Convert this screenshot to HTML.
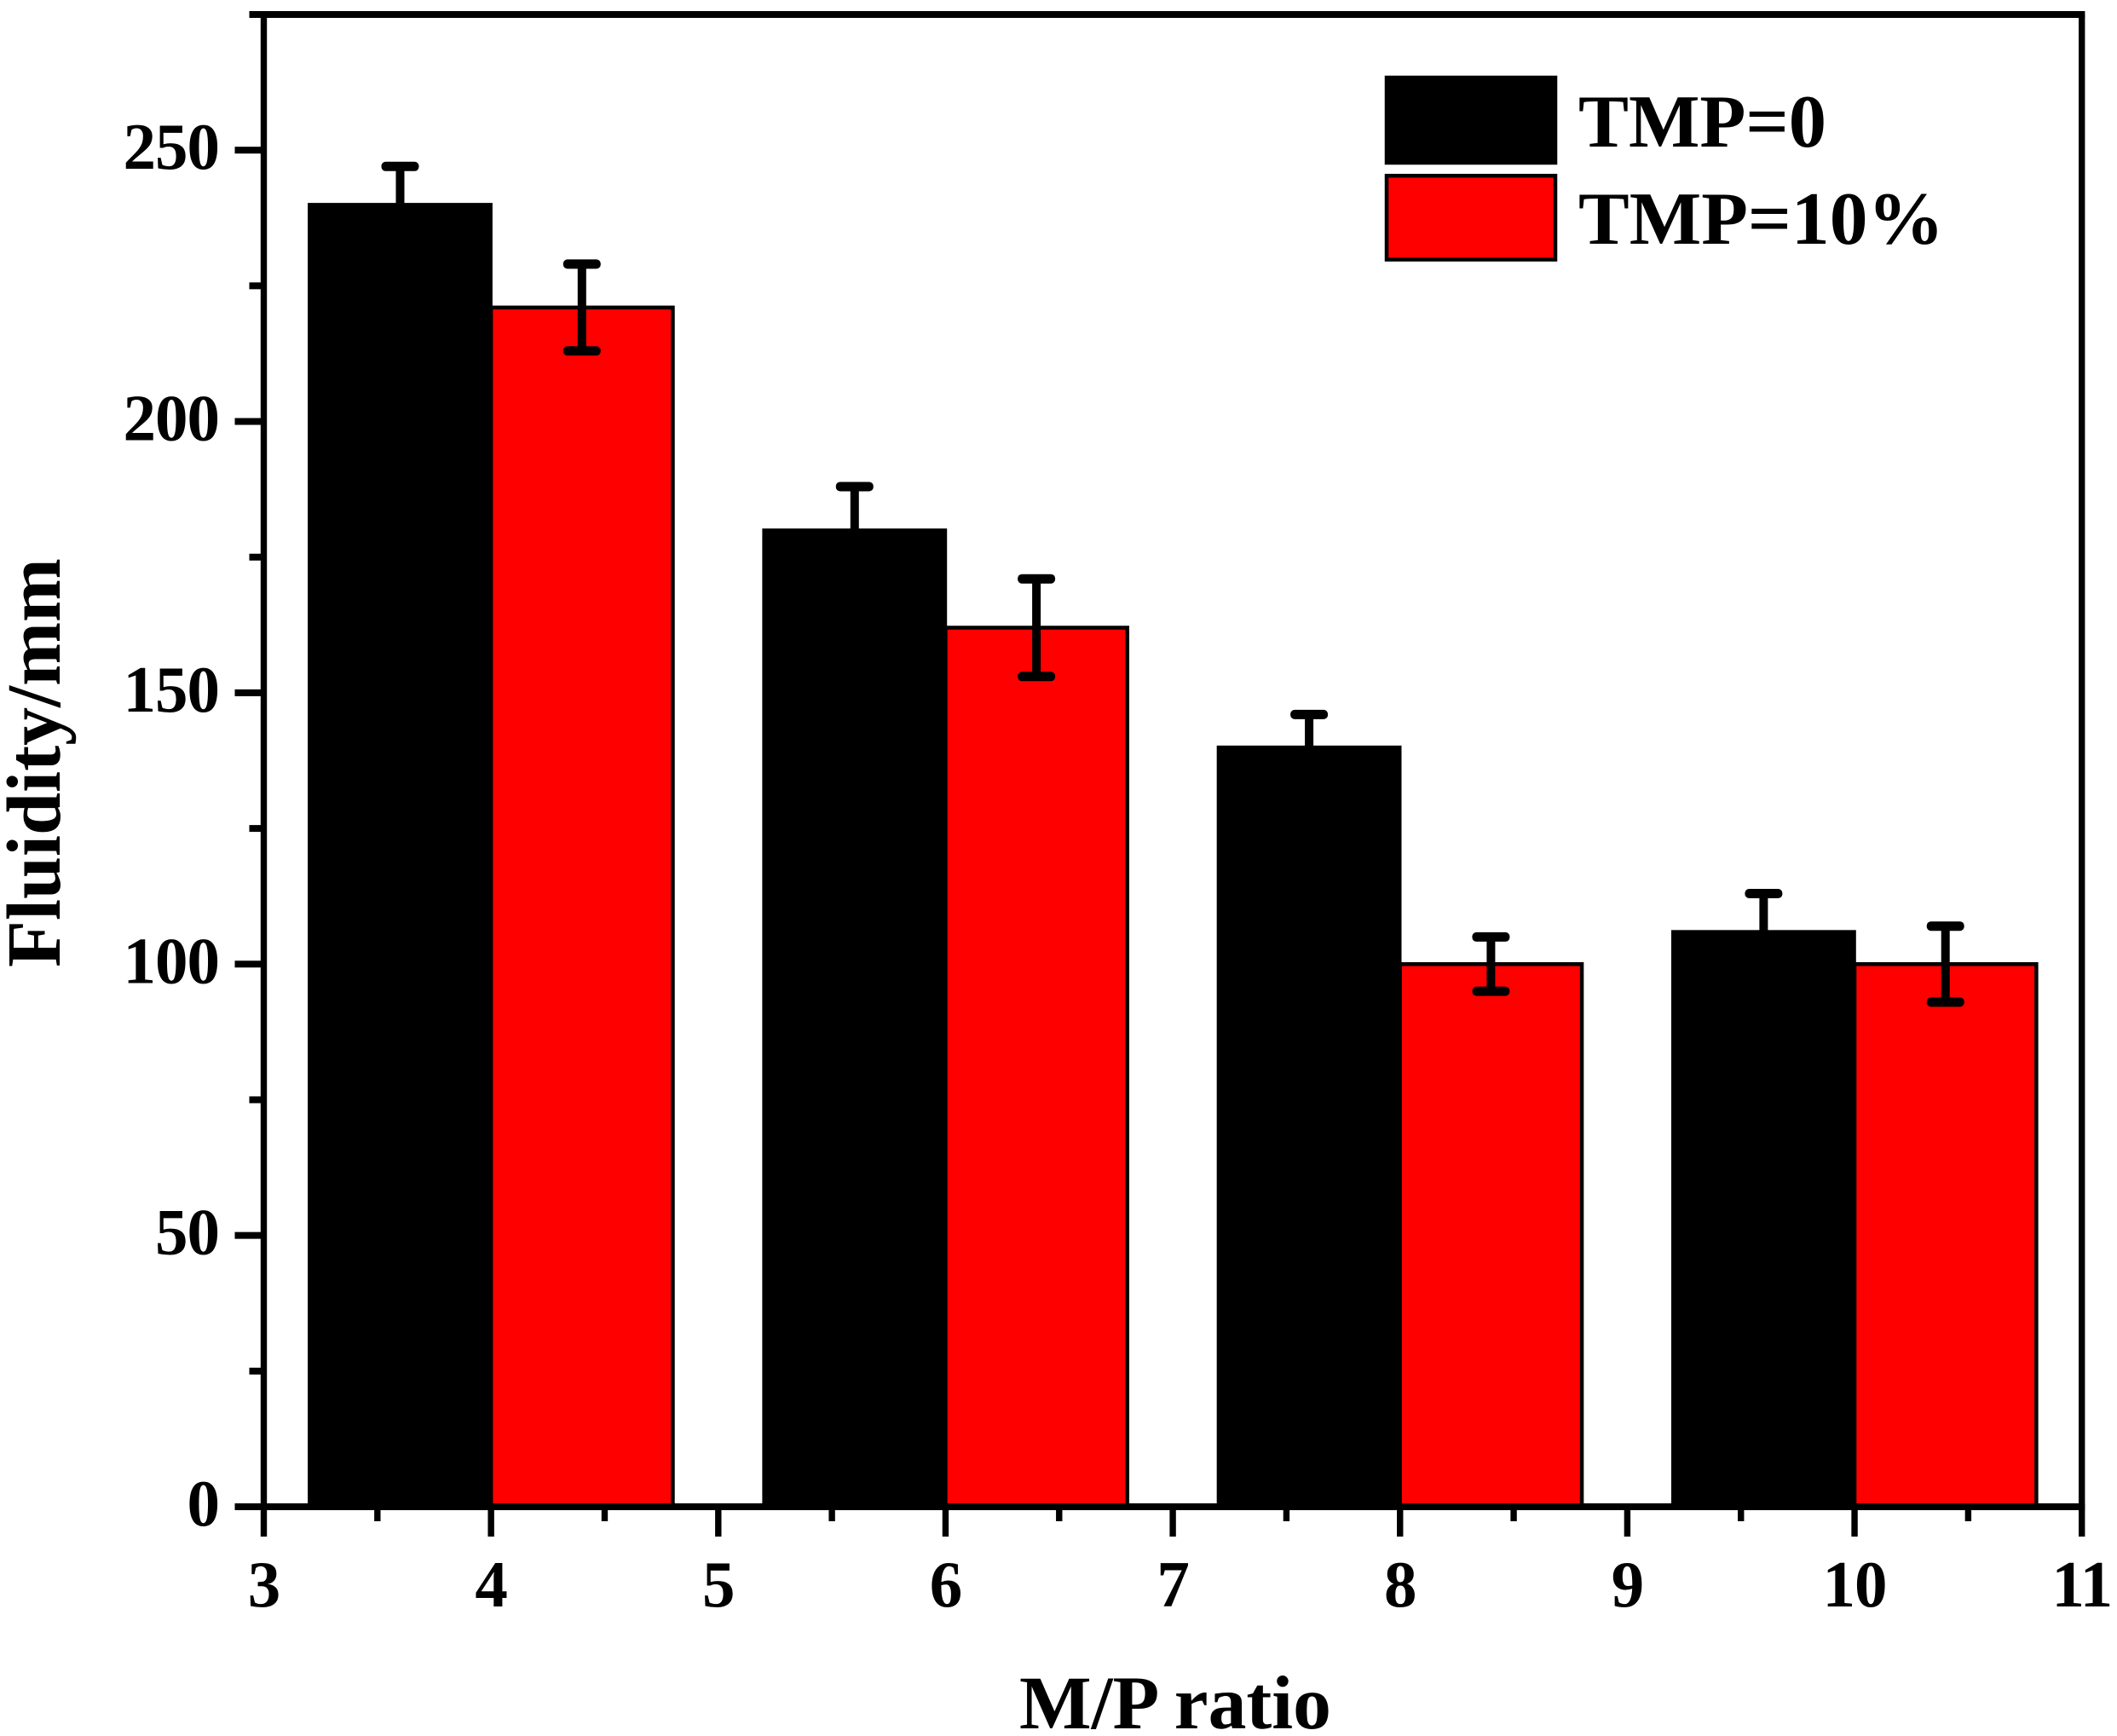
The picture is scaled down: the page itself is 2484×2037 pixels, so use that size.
<!DOCTYPE html>
<html lang="en">
<head>
<meta charset="utf-8">
<title>Fluidity vs M/P ratio</title>
<style>
html,body{margin:0;padding:0;background:#fff;}
svg{display:block;}
text{font-family:"Liberation Serif",serif;font-weight:bold;fill:#000;}
</style>
</head>
<body>
<svg id="chart" xmlns="http://www.w3.org/2000/svg" width="2484" height="2037" viewBox="0 0 2484 2037">
  <rect x="0" y="0" width="2484" height="2037" fill="#fff"/>
  <g id="bars"></g>
  <g id="errors"></g>
  <g id="axes"></g>
  <g id="xlabels"></g>
  <g id="ylabels"></g>
  <text x="1379" y="2028" font-size="89.5" text-anchor="middle" textLength="366" lengthAdjust="spacingAndGlyphs">M/P ratio</text>
  <text x="0" y="0" font-size="90" text-anchor="middle" transform="translate(70 895) rotate(-90)">Fluidity/mm</text>
  <g>
    <rect x="1627" y="91" width="198" height="100" fill="#000" stroke="#000" stroke-width="4.5"/>
    <text x="1852" y="172" font-size="88" textLength="291" lengthAdjust="spacingAndGlyphs">TMP=0</text>
    <rect x="1627" y="206.2" width="198" height="98.4" fill="#f00" stroke="#000" stroke-width="4.5"/>
    <text x="1852" y="286" font-size="88" textLength="429" lengthAdjust="spacingAndGlyphs">TMP=10%</text>
  </g>
</svg>
<script>
const categories = [4, 6, 8, 10];
const tmp0Values = [240, 180, 140, 106];
const tmp10Values = [221, 162, 100, 100];
const tmp0Errors = [7, 8, 6, 7];
const tmp10Errors = [8, 9, 5, 7];
const xTickLabels = [3, 4, 5, 6, 7, 8, 9, 10, 11];
const yTickLabels = [0, 50, 100, 150, 200, 250];
const xDomain = [3, 11];
const yDomain = [0, 275];

const NS = 'http://www.w3.org/2000/svg';
const plotLeft = 309.5, plotRight = 2442.7, plotBottom = 1768, plotTop = 17;
function xS(v) { return plotLeft + (v - xDomain[0]) * (plotRight - plotLeft) / (xDomain[1] - xDomain[0]); }
function yS(v) { return plotBottom - (v - yDomain[0]) * (plotBottom - plotTop) / (yDomain[1] - yDomain[0]); }
function make(tag, attrs, parent) {
  const el = document.createElementNS(NS, tag);
  for (const k in attrs) el.setAttribute(k, attrs[k]);
  parent.appendChild(el);
  return el;
}
const barsG = document.getElementById('bars');
const errorsG = document.getElementById('errors');
const axesG = document.getElementById('axes');
const xLabelsG = document.getElementById('xlabels');
const yLabelsG = document.getElementById('ylabels');
const barSpan = 0.8;

function drawBar(x0, x1, value, fill, strokeW, label) {
  const el = make('rect', { x: xS(x0), y: yS(value), width: xS(x1) - xS(x0), height: yS(0) - yS(value), fill: fill, stroke: '#000', 'stroke-width': strokeW }, barsG);
  
  
}
function drawError(xVal, value, err, label) {
  const cx = xS(xVal), hi = yS(value + err), lo = yS(value - err);
  const g = make('g', {}, errorsG);
  
  
  make('line', { x1: cx, x2: cx, y1: hi, y2: lo, stroke: '#000', 'stroke-width': 10 }, g);
  make('rect', { x: cx - 22, y: hi - 5.5, width: 44, height: 11, rx: 5, ry: 5, fill: '#000' }, g);
  make('rect', { x: cx - 22, y: lo - 5.5, width: 44, height: 11, rx: 5, ry: 5, fill: '#000' }, g);
}
categories.forEach(function (cat, i) {
  drawBar(cat - barSpan, cat, tmp0Values[i], '#000', 3.5, 'bar-tmp0-' + cat);
  drawBar(cat, cat + barSpan, tmp10Values[i], '#f00', 4.5, 'bar-tmp10-' + cat);
});
categories.forEach(function (cat, i) {
  drawError(cat - barSpan / 2, tmp0Values[i], tmp0Errors[i], 'error-tmp0-' + cat);
  drawError(cat + barSpan / 2, tmp10Values[i], tmp10Errors[i], 'error-tmp10-' + cat);
});

function axisRect(x, y, w, h, label) {
  const el = make('rect', { x: x, y: y, width: w, height: h, fill: '#000' }, axesG);
  
  
}
const hT = 8, vT = 7.4;
axisRect(plotLeft - vT / 2, plotTop, vT, plotBottom - plotTop, 'y-axis-line');
axisRect(plotRight - vT / 2, plotTop, vT, plotBottom - plotTop, 'right-axis-line');
axisRect(plotLeft - 17, plotTop - hT / 2, plotRight - plotLeft + 17 + vT / 2, hT, 'top-axis-line');
axisRect(plotLeft - vT / 2, plotBottom - hT / 2, plotRight - plotLeft + vT, hT, 'x-axis-line');

xTickLabels.forEach(function (v, i) {
  axisRect(xS(v) - vT / 2, plotBottom, vT, 35, 'x-major-tick-' + v);
  if (i < xTickLabels.length - 1) {
    axisRect(xS(v + 0.5) - vT / 2, plotBottom, vT, 17, 'x-minor-tick-' + (v + 0.5));
  }
  const t = make('text', { x: xS(v), y: 1885, 'font-size': 77, 'text-anchor': 'middle', 'letter-spacing': -1 }, xLabelsG);
  
  
  t.textContent = v;
});
yTickLabels.forEach(function (v) {
  axisRect(plotLeft - 34, yS(v) - hT / 2, 34, hT, 'y-major-tick-' + v);
  axisRect(plotLeft - 17, yS(v + 25) - hT / 2, 17, hT, 'y-minor-tick-' + (v + 25));
  const t = make('text', { x: 257, y: yS(v) + 22, 'font-size': 77, 'text-anchor': 'end', 'letter-spacing': -1 }, yLabelsG);
  
  
  t.textContent = v;
});
</script>
</body>
</html>
